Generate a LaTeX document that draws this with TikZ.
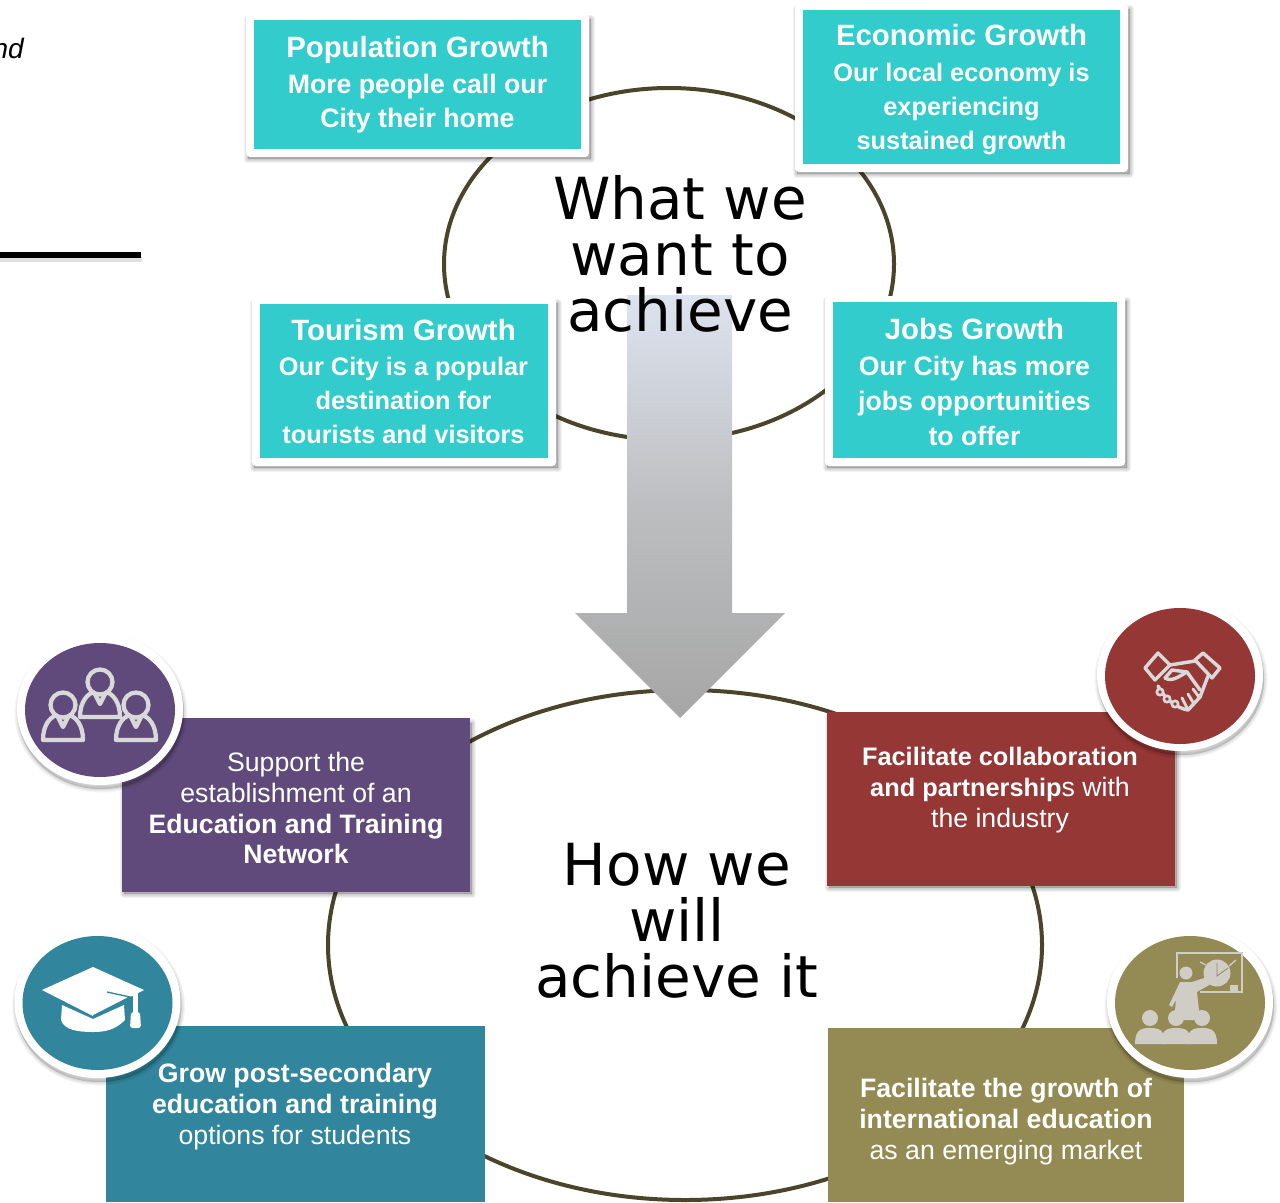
\documentclass[tikz,border=0pt]{standalone}
\usepackage{fontspec}
\setmainfont{Liberation Sans}
\newfontfamily\bigfont{DejaVu Sans}
\definecolor{tealbox}{HTML}{33CCCC}
\definecolor{ringcol}{HTML}{4A452A}
\definecolor{purplebox}{HTML}{604A7B}
\definecolor{redbox}{HTML}{953735}
\definecolor{bluebox}{HTML}{31859C}
\definecolor{olivebox}{HTML}{948A54}
\definecolor{icongray}{HTML}{D9D9D9}
\definecolor{arrowtop}{HTML}{DDE3EF}
\definecolor{arrowmid}{HTML}{BDBEC0}
\definecolor{arrowbot}{HTML}{A6A6A6}
\newcommand\softrect[4]{\foreach \w in {8,6,4,2}{\draw[black,opacity=.05,fill=black,line width=\w*0.75pt,line join=round] ({#1+2},{#2+5}) rectangle ({#3+2},{#4+2});}}
\newcommand\softell[4]{\foreach \w in {7,5,3,1}{\draw[black,opacity=.04,fill=black,line width=\w*0.75pt] ({#1+1},{#2+4}) ellipse [x radius=#3,y radius=#4];}}
\tikzset{
  x=0.75pt,y=-0.75pt,
  ring/.style={draw=ringcol,line width=3pt},
  tealtext/.style={text=white,align=center,font=\bfseries\fontsize{20}{25.5}\selectfont,inner sep=0pt},
  lowtext/.style={text=white,align=center,font=\fontsize{20}{23.2}\selectfont,inner sep=0pt},
  bigtext/.style={text=black,align=center,font=\bigfont\fontsize{43.5}{42}\selectfont,inner sep=0pt},
  iconline/.style={draw=icongray,line width=3.2pt,line join=round,line cap=round},
}
\newcommand\tealpanel[4]{%
  \softrect{#1}{#2}{#3}{#4}
  \fill[white,rounded corners=3pt] (#1,#2) rectangle (#3,#4);
  \fill[tealbox] ({#1+8},{#2+6}) rectangle ({#3-8},{#4-8});
}
\newcommand\person[3]{%
  \begin{scope}[shift={(#1,#2)}]
    \draw[iconline,fill=#3] (-20,35) -- (20,35) .. controls (20,20) and (13,12) .. (6,10) -- (0,22) -- (-6,10) .. controls (-13,12) and (-20,20) .. (-20,35) -- cycle;
    \draw[iconline,fill=#3] (0,0) circle (12.5);
  \end{scope}}
\newcommand\viewer[2]{%
  \fill[icongray!85!olivebox] ({#1-8},{#2}) arc (180:-180:8);
  \fill[icongray!85!olivebox] ({#1-15},1044) .. controls ({#1-15},{#2+11}) and ({#1-8},{#2+10}) .. ({#1},{#2+10}) .. controls ({#1+8},{#2+10}) and ({#1+15},{#2+11}) .. ({#1+15},1044) -- cycle;}
\begin{document}
\begin{tikzpicture}
\useasboundingbox (0,0) rectangle (1280,1202);
\fill[white] (0,0) rectangle (1280,1202);
% fragments at the left edge
\node[anchor=base east,inner sep=0pt,font=\itshape\fontsize{21}{25}\selectfont] (frag) at (24,59) {nd};
\fill[black,opacity=.12] (0,257) rectangle (142,262);
\fill[black] (0,252) rectangle (141,258);
% rings
\draw[ring] (669,264) ellipse [x radius=225,y radius=176];
\draw[ring] (685,945) ellipse [x radius=357,y radius=255];
% arrow
\shade[top color=arrowtop,bottom color=arrowbot,middle color=arrowmid]
  (627,295) -- (732,295) -- (732,613) -- (785,613) -- (680,718) -- (575,613) -- (627,613) -- cycle;
% centre titles
\node[bigtext] (want) at (680,254) {What we\\want to\\achieve};
\node[bigtext] (how) at (677,921) {How we\\will\\achieve it};
% teal boxes
\tealpanel{246}{14}{589}{157}
\node[tealtext] (pop) at (417.5,85) {{\fontsize{22}{25}\selectfont Population Growth}\\[1.5pt]More people call our\\City their home};
\tealpanel{795}{4}{1128}{172}
\node[tealtext,font=\bfseries\fontsize{19}{25.5}\selectfont] (eco) at (961.5,90) {{\fontsize{22}{25}\selectfont Economic Growth}\\[1.5pt]Our local economy is\\experiencing\\sustained growth};
\tealpanel{252}{298}{556}{466}
\node[tealtext,font=\bfseries\fontsize{19}{25.5}\selectfont] (tou) at (403.5,381.5) {{\fontsize{22}{25}\selectfont Tourism Growth}\\[1pt]Our City is a popular\\destination for\\tourists and visitors};
\tealpanel{825}{296}{1125}{466}
\node[tealtext,font=\bfseries\fontsize{20}{26.2}\selectfont] (job) at (974.5,382) {{\fontsize{22}{25}\selectfont Jobs Growth}\\[1pt]Our City has more\\jobs opportunities\\to offer};
% coloured boxes
\softrect{122}{718}{470}{892}
\fill[purplebox] (122,718) rectangle (470,892);
\node[lowtext] (edu) at (296,808) {Support the\\establishment of an\\\textbf{Education and Training}\\\textbf{Network}};
\softrect{827}{712}{1175}{886}
\fill[redbox] (827,712) rectangle (1175,886);
\node[lowtext] (col) at (1000,790) {{\fontsize{19}{23}\selectfont\textbf{Facilitate collaboration}}\\{\fontsize{19}{23}\selectfont\textbf{and partnership}}s with\\the industry};
\fill[bluebox] (106,1026) rectangle (485,1202);
\node[lowtext] (gro) at (295,1107) {\textbf{Grow post-secondary}\\\textbf{education and training}\\options for students};
\fill[olivebox] (828,1028) rectangle (1184,1202);
\node[lowtext] (int) at (1006,1122) {\textbf{Facilitate the growth of}\\\textbf{international education}\\as an emerging market};
% purple badge
\softell{100}{709}{83}{76}
\fill[white] (100,709) ellipse [x radius=83,y radius=76];
\fill[purplebox] (100,710) ellipse [x radius=75,y radius=67];
\person{100}{682}{purplebox}
\person{63}{705}{purplebox}
\person{136}{705}{purplebox}
% red badge
\softell{1180}{675}{83}{76}
\fill[white] (1180,675) ellipse [x radius=83,y radius=76];
\fill[redbox] (1180,676) ellipse [x radius=75,y radius=68];
\begin{scope}[iconline,line width=2.6pt]
  \draw (1145,668) -- (1158,653) -- (1170,665) -- (1155,680) -- cycle;
  \draw (1195,660) -- (1203,653) -- (1220,668) -- (1212,678) -- cycle;
  \draw (1170,665) -- (1195,661);
  \draw (1165,678) -- (1172,670) -- (1187,672) -- (1200,690);
  \draw (1165,678) .. controls (1172,682) and (1178,677) .. (1187,672);
  \draw (1158,686) .. controls (1164,698) and (1176,708) .. (1188,710) -- (1200,697) -- (1208,676);
  \draw[fill=redbox,line width=2pt] (1160,692) circle (3.2) (1167,699) circle (3.2) (1175,704) circle (3.2);
  \draw[line width=2.2pt] (1188,710) -- (1182,698) (1194,704) -- (1188,694) (1199,697) -- (1193,689);
\end{scope}
% blue badge
\softell{97.5}{1002}{83}{76}
\fill[white] (97.5,1002) ellipse [x radius=83,y radius=76];
\fill[bluebox] (97.5,1003) ellipse [x radius=75,y radius=67];
\fill[white] (62,1005) -- (93,1019) -- (124,1005) -- (125,1020) .. controls (115,1030) and (105,1032) .. (93,1032) .. controls (78,1032) and (64,1030) .. (61,1020) -- cycle;
\fill[white] (42,990) -- (93,967) -- (144,990) -- (93,1016) -- cycle;
\draw[bluebox,line width=1pt] (107,992) -- (130,997) -- (93,1016);
\fill[white] (133,993) rectangle (138,1012);
\fill[white,rounded corners=2pt] (131,1012) -- (140,1012) -- (141,1028) -- (130,1028) -- cycle;
% olive badge
\softell{1190}{1002}{83}{76}
\fill[white] (1190,1002) ellipse [x radius=83,y radius=76];
\fill[olivebox] (1190,1003) ellipse [x radius=75,y radius=67];
\draw[icongray!85!olivebox,line width=1.2pt] (1177,978) -- (1177,953) -- (1242,953) -- (1242,992) -- (1200,992);
\fill[icongray!85!olivebox] (1217,973) circle (13.5);
\draw[icongray!85!olivebox,line width=1pt] (1200,962) -- (1206,965) (1236,960) -- (1229,966);
\fill[icongray!85!olivebox] (1230,985) rectangle (1238,991);
\draw[olivebox,line width=.6pt] (1217,963) -- (1217,976) -- (1228,968);
\fill[icongray!85!olivebox] (1186,973) circle (6.5);
\fill[icongray!85!olivebox] (1180,982) -- (1192,982) -- (1213,975) -- (1216,981) -- (1197,992) -- (1200,1020) -- (1174,1020) -- (1176,1000) -- (1172,1007) -- (1169,1005) -- cycle;
\viewer{1150}{1018}
\viewer{1176}{1018}
\viewer{1202}{1018}
\end{tikzpicture}
\end{document}
